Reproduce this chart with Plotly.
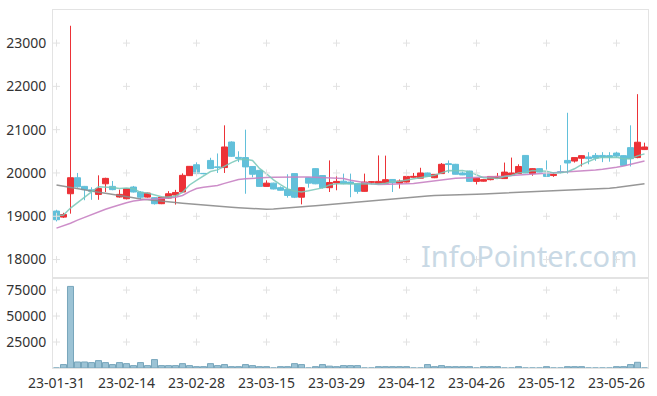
import plotly.graph_objects as go

dates = ["2023-01-31","2023-02-01","2023-02-02","2023-02-03","2023-02-06","2023-02-07","2023-02-08","2023-02-09","2023-02-10","2023-02-13",
         "2023-02-14","2023-02-15","2023-02-16","2023-02-17","2023-02-20","2023-02-21","2023-02-22","2023-02-23","2023-02-24","2023-02-27",
         "2023-02-28","2023-03-02","2023-03-03","2023-03-06","2023-03-07","2023-03-08","2023-03-09","2023-03-10","2023-03-13","2023-03-14",
         "2023-03-15","2023-03-16","2023-03-17","2023-03-20","2023-03-21","2023-03-22","2023-03-23","2023-03-24","2023-03-27","2023-03-28",
         "2023-03-29","2023-03-30","2023-03-31","2023-04-03","2023-04-04","2023-04-05","2023-04-06","2023-04-07","2023-04-10","2023-04-11",
         "2023-04-12","2023-04-13","2023-04-14","2023-04-17","2023-04-18","2023-04-19","2023-04-20","2023-04-21","2023-04-24","2023-04-25",
         "2023-04-26","2023-04-27","2023-04-28","2023-05-02","2023-05-03","2023-05-04","2023-05-08","2023-05-09","2023-05-10","2023-05-11",
         "2023-05-12","2023-05-15","2023-05-16","2023-05-17","2023-05-18","2023-05-19","2023-05-22","2023-05-23","2023-05-24","2023-05-25",
         "2023-05-26","2023-05-30","2023-05-31","2023-06-01","2023-06-02"]

open_ = [19120,18980,19520,19890,19690,19610,19505,19750,19690,19445,
         19405,19675,19560,19442,19430,19290,19420,19490,19560,19938,
         20190,19990,20290,20140,20125,20715,20360,20355,20150,20060,
         19690,19765,19660,19620,19985,19440,19890,20100,19940,19660,
         19770,19810,19790,19750,19575,19785,19755,19765,19850,19765,
         19790,19900,19880,20000,19890,19985,20215,20200,20000,20045,
         19805,19810,19845,19875,19870,19945,19985,20405,19985,20100,
         20000,19940,20030,20290,20275,20340,20370,20405,20405,20400,
         20460,20400,20585,20355,20540]
high = [19150,19080,23400,20000,19700,19670,19945,19890,19815,19615,
        19640,19700,19580,19545,19440,19450,19580,19610,19990,20160,
        20245,20000,20350,20450,21100,20730,20500,21000,20160,20070,
        19830,19775,19690,19970,19990,19670,19900,20110,19950,20290,
        19985,19985,19985,19760,19985,19810,20405,20400,19860,19850,
        20000,20000,20120,20010,19975,20230,20290,20210,20030,20050,
        19885,19855,19925,20000,20240,20355,20200,20410,20110,20110,
        20290,19990,20180,21390,20360,20410,20480,20460,20480,20480,
        20490,20410,21100,21820,20700]
low = [18880,18960,19060,19660,19370,19380,19380,19560,19600,19430,
       19390,19550,19380,19430,19270,19280,19410,19270,19550,19930,
       19980,19970,20090,20000,20000,20370,20250,19520,19900,19680,
       19685,19620,19595,19430,19420,19275,19660,19740,19640,19560,
       19600,19740,19440,19520,19570,19740,19740,19760,19560,19640,
       19780,19890,19875,19915,19880,19980,19998,19965,19950,19800,
       19735,19800,19830,19870,19860,19940,19980,19995,19935,20015,
       19915,19910,19990,19985,20240,20150,20200,20280,20250,20260,
       20360,20170,20150,20340,20530]
close = [18920,19040,19890,19680,19615,19580,19640,19875,19615,19505,
         19637,19560,19440,19535,19290,19440,19520,19550,19945,20153,
         19985,19985,20100,20130,20600,20385,20340,20140,19970,19690,
         19765,19630,19600,19480,19440,19660,19765,19750,19660,19780,
         19805,19752,19750,19575,19790,19795,19805,19845,19775,19813,
         19920,19920,20000,19920,19968,20200,20195,19970,19955,19805,
         19880,19845,19920,19920,20020,20000,20150,20000,20100,20020,
         19920,19965,20010,20230,20355,20400,20330,20345,20370,20370,
         20390,20175,20330,20710,20600]

ma_short = [19010,19030,19190,19320,19429,19561,19681,19678,19665,19643,
            19654,19638,19551,19535,19492,19453,19445,19467,19549,19722,
            19831,19924,20034,20071,20160,20240,20311,20319,20287,20105,
            19981,19839,19731,19633,19583,19562,19589,19619,19655,19723,
            19752,19749,19749,19732,19734,19732,19743,19762,19802,19807,
            19832,19855,19886,19915,19946,20002,20057,20051,20058,20025,
            19961,19891,19881,19874,19917,19941,20002,20018,20054,20054,
            20038,20001,20003,20029,20096,20192,20265,20332,20360,20363,
            20361,20330,20327,20395,20441]
ma_mid = [18725,18780,18840,18910,18975,19040,19100,19160,19215,19270,
          19310,19350,19380,19395,19400,19405,19420,19440,19480,19570,
          19640,19670,19690,19710,19760,19810,19850,19865,19880,19890,
          19895,19900,19905,19905,19905,19905,19905,19900,19895,19895,
          19890,19870,19830,19800,19775,19750,19735,19735,19740,19745,
          19750,19755,19775,19800,19830,19850,19865,19875,19885,19890,
          19895,19900,19905,19915,19925,19940,19950,19960,19970,19985,
          19995,20005,20015,20020,20025,20040,20055,20070,20085,20100,
          20130,20160,20200,20240,20275]
ma_long = [19720,19690,19660,19635,19610,19580,19555,19530,19500,19475,
           19450,19425,19400,19380,19360,19345,19330,19315,19300,19285,
           19272,19260,19248,19235,19222,19210,19198,19188,19178,19168,
           19160,19165,19175,19188,19200,19215,19230,19245,19260,19272,
           19285,19300,19315,19330,19345,19360,19375,19390,19405,19420,
           19435,19448,19460,19470,19478,19486,19493,19498,19502,19505,
           19508,19515,19522,19530,19538,19545,19552,19558,19563,19568,
           19573,19580,19587,19594,19600,19607,19614,19622,19633,19648,
           19665,19683,19703,19725,19750]

volume = [0,3300,78500,5800,5800,5200,7100,5200,3300,5200,
          4200,2300,5200,2300,8100,2300,2300,2300,4200,2300,
          1300,1300,4200,2300,3300,1300,1300,3300,2300,1300,
          1300,0,1300,1300,4200,3300,0,1300,3300,1800,
          1300,2300,2300,2300,0,0,1300,1300,1300,1300,
          1300,0,0,3300,1300,2300,1300,1300,1300,1300,
          0,1300,1300,1300,0,0,1300,0,0,0,
          1300,0,0,1300,1300,1300,0,0,0,0,
          1300,1300,3300,5500,0]

tick_dates = dates[::10]
tick_text = ["23-01-31","23-02-14","23-02-28","23-03-15","23-03-29","23-04-12","23-04-26","23-05-12","23-05-26"]
price_ticks = [18000,19000,20000,21000,22000,23000]
vol_ticks = [25000,50000,75000]

RED = "#ec3237"
BLUE = "#62c0da"
FONT = "Noto Sans"
TXT = "#333333"

fig = go.Figure()

fig.add_trace(go.Candlestick(
    x=dates, open=open_, high=high, low=low, close=close,
    increasing=dict(line=dict(color=RED, width=1), fillcolor=RED),
    decreasing=dict(line=dict(color=BLUE, width=1), fillcolor=BLUE),
    whiskerwidth=0, xaxis="x", yaxis="y", showlegend=False, hoverinfo="skip"))

fig.add_trace(go.Scatter(x=dates, y=ma_long, mode="lines",
                         line=dict(color="rgba(140,140,140,0.9)", width=1.5),
                         xaxis="x", yaxis="y", showlegend=False, hoverinfo="skip"))
fig.add_trace(go.Scatter(x=dates, y=ma_mid, mode="lines",
                         line=dict(color="rgba(200,130,195,0.9)", width=1.5),
                         xaxis="x", yaxis="y", showlegend=False, hoverinfo="skip"))
fig.add_trace(go.Scatter(x=dates, y=ma_short, mode="lines",
                         line=dict(color="rgba(120,200,185,0.85)", width=1.5),
                         xaxis="x", yaxis="y", showlegend=False, hoverinfo="skip"))

fig.add_trace(go.Bar(x=dates, y=volume, marker=dict(color="#9cc3d5", line=dict(color="#78a6bc", width=1)),
                     xaxis="x2", yaxis="y2", showlegend=False, hoverinfo="skip"))

# grid crosses at tick intersections
gx, gy = [], []
for d in tick_dates:
    for p in price_ticks:
        gx.append(d); gy.append(p)
fig.add_trace(go.Scatter(x=gx, y=gy, mode="markers",
                         marker=dict(symbol="cross-thin", size=5, line=dict(color="#e2e2e2", width=1)),
                         xaxis="x", yaxis="y", showlegend=False, hoverinfo="skip"))
vx, vy = [], []
for d in tick_dates:
    for v in vol_ticks:
        vx.append(d); vy.append(v)
fig.add_trace(go.Scatter(x=vx, y=vy, mode="markers",
                         marker=dict(symbol="cross-thin", size=5, line=dict(color="#e2e2e2", width=1)),
                         xaxis="x2", yaxis="y2", showlegend=False, hoverinfo="skip"))

axis_common = dict(showgrid=False, zeroline=False, showline=True, linecolor="#e3e3e3",
                   linewidth=1, mirror=True, automargin=False)

fig.update_layout(
    width=657, height=396,
    margin=dict(l=53, r=9, t=10, b=28),
    paper_bgcolor="white", plot_bgcolor="white",
    font=dict(family=FONT, size=14, color=TXT),
    boxgap=0.14, boxgroupgap=0, bargap=0.14,
    xaxis=dict(type="category", categoryorder="array", categoryarray=dates,
               range=[-0.5, len(dates) - 0.5], domain=[0, 1], anchor="y",
               showticklabels=False, rangeslider=dict(visible=False), **axis_common),
    yaxis=dict(domain=[0.2525, 1], range=[17583, 23764], tickvals=price_ticks, tickformat="d",
               ticks="outside", ticklen=3, tickcolor="rgba(0,0,0,0)", anchor="x", **axis_common),
    xaxis2=dict(type="category", categoryorder="array", categoryarray=dates,
                range=[-0.5, len(dates) - 0.5], domain=[0, 1], anchor="y2", matches="x",
                tickvals=tick_dates, ticktext=tick_text, ticks="outside", ticklen=2,
                tickcolor="rgba(0,0,0,0)", **axis_common),
    yaxis2=dict(domain=[0, 0.2514], range=[0, 86600], tickvals=vol_ticks, tickformat="d",
                ticks="outside", ticklen=3, tickcolor="rgba(0,0,0,0)", anchor="x2", **axis_common),
    annotations=[dict(text="InfoPointer.com", xref="paper", yref="paper", x=0.8, y=0.313,
                      xanchor="center", yanchor="middle", showarrow=False,
                      font=dict(family=FONT, size=29, color="#c9d9e5"))],
)

fig.write_html("out.html", config={"displayModeBar": False, "staticPlot": True},
               post_script="document.body.style.margin='0px';")
